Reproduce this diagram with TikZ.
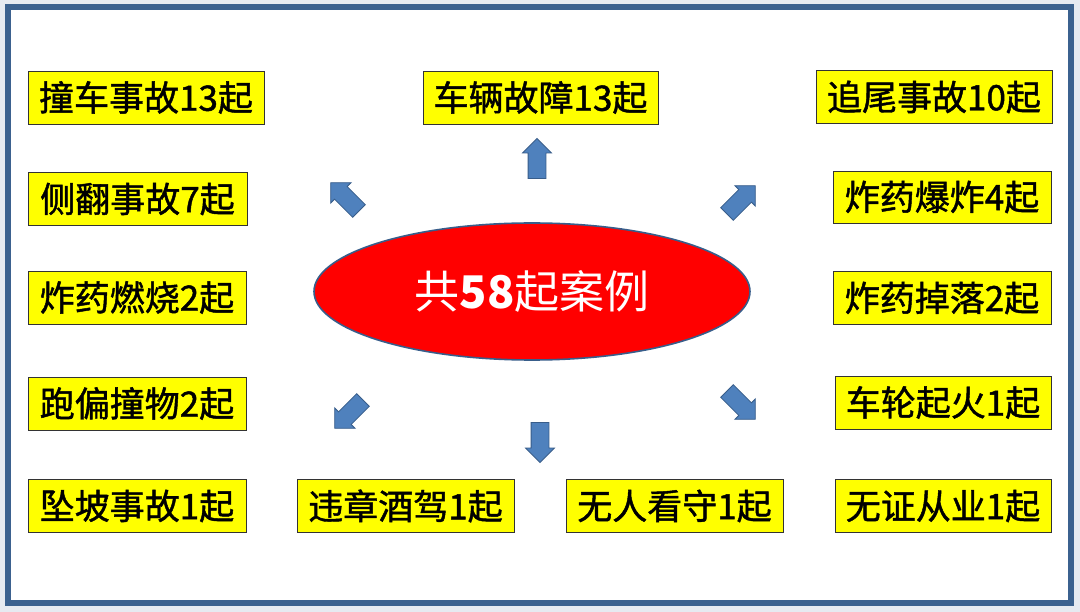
\documentclass[tikz,border=0pt]{standalone}
\usepackage{fontspec}
\usepackage{xcolor}
\usepackage{tikz}
\usetikzlibrary{shapes.geometric,shapes.arrows}
\newfontfamily\cjk{Noto Sans CJK SC}
\newfontfamily\cjkheavy[FakeBold=1.3]{Noto Sans CJK SC}
\definecolor{framebg}{HTML}{E6EAF1}
\definecolor{frameline}{HTML}{3B618F}
\definecolor{arrowfill}{HTML}{4F81BD}
\definecolor{arrowline}{HTML}{385D8A}
\definecolor{boxyellow}{HTML}{FFFF00}
\definecolor{hubred}{HTML}{FF0000}

\tikzset{
  casebox/.style={draw=black!80, line width=0.9pt, fill=boxyellow, inner sep=0pt,
    minimum height=53pt, font=\cjkheavy\fontsize{35}{40}\selectfont, text=black},
  blockarrow/.style={single arrow, draw=arrowline, fill=arrowfill, line width=0.8pt,
    inner xsep=0pt, inner ysep=8.5pt, minimum width=28pt, minimum height=40pt,
    single arrow head extend=5.5pt}
}

\begin{document}
\begin{tikzpicture}[x=1pt, y=-1pt]
    \useasboundingbox (0,0) rectangle (1080,612);
    \fill[framebg] (0,0) rectangle (1080,612);
    \draw[frameline, line width=6pt, fill=white] (7.5,7.5) rectangle (1071,603);

    % centre
    \node[ellipse, draw=arrowline, line width=1.6pt, fill=hubred, minimum width=436pt, minimum height=137pt,
      text=white, font=\cjk\fontsize{45}{50}\selectfont] (hub) at (532,291.5) {共{\bfseries 58}起案例};

    % left column
    \node[casebox, minimum width=236pt] (zhuangche) at (146,97.5) {撞车事故13起};
    \node[casebox, minimum width=219pt] (cefan) at (137.5,199) {侧翻事故7起};
    \node[casebox, minimum width=218pt] (ranshao) at (137,297.5) {炸药燃烧2起};
    \node[casebox, minimum width=218pt] (paopian) at (137,403.5) {跑偏撞物2起};
    \node[casebox, minimum width=218pt] (zhuipo) at (137,506) {坠坡事故1起};

    % middle
    \node[casebox, minimum width=235pt] (guzhang) at (540.5,97.5) {车辆故障13起};
    \node[casebox, minimum width=217pt] (jiujia) at (405.5,506) {违章酒驾1起};
    \node[casebox, minimum width=217pt] (kanshou) at (674.5,506) {无人看守1起};

    % right column
    \node[casebox, minimum width=236pt] (zhuiwei) at (934,97) {追尾事故10起};
    \node[casebox, minimum width=218pt, minimum height=52pt] (baozha) at (942,197) {炸药爆炸4起};
    \node[casebox, minimum width=218pt] (diaoluo) at (942,298) {炸药掉落2起};
    \node[casebox, minimum width=216pt] (qihuo) at (943,402.5) {车轮起火1起};
    \node[casebox, minimum width=216pt] (congye) at (943,506) {无证从业1起};

    % block arrows
    \node[blockarrow, rotate=90] (upA) at (537,163) {};
    \node[blockarrow, rotate=135] (ulA) at (348,200) {};
    \node[blockarrow, rotate=45] (urA) at (738,203) {};
    \node[blockarrow, rotate=225] (dlA) at (352,411) {};
    \node[blockarrow, rotate=270] (dnA) at (540,438) {};
    \node[blockarrow, rotate=315] (drA) at (738,402) {};
\end{tikzpicture}
\end{document}
